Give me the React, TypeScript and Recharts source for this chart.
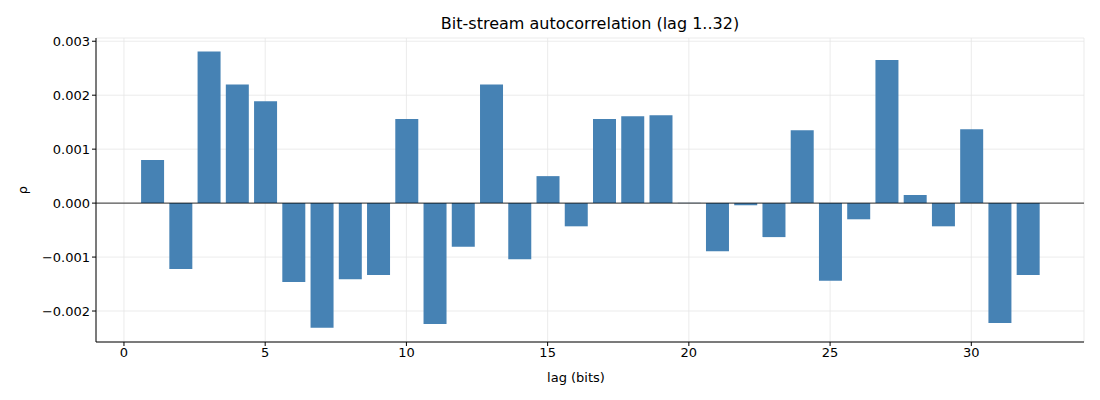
import React from 'react';
import { BarChart, Bar, XAxis, YAxis, CartesianGrid, ReferenceLine } from 'recharts';

const lags = [1,2,3,4,5,6,7,8,9,10,11,12,13,14,15,16,17,18,19,20,21,22,23,24,25,26,27,28,29,30,31,32];
const rho = [0.0008,-0.00122,0.00281,0.0022,0.00189,-0.00146,-0.00231,-0.00141,-0.00133,0.00156,-0.00224,-0.00081,0.0022,-0.00104,0.0005,-0.00043,0.00156,0.00161,0.00163,0.000005,-0.00089,-0.00004,-0.00063,0.00135,-0.00144,-0.0003,0.00265,0.00015,-0.00043,0.00137,-0.00222,-0.00133];
const xTicks = [0, 5, 10, 15, 20, 25, 30];
const yTicks = [-0.002, -0.001, 0, 0.001, 0.002, 0.003];

const data = lags.map((lag, i) => ({ lag, rho: rho[i] }));
const font = 'DejaVu Sans, sans-serif';

export default function App() {
  return (
    <div style={{ position: 'absolute', left: 0, top: 0, width: 1100, height: 400, background: '#fff', fontFamily: font }}>
      <BarChart width={1100} height={400} data={data} margin={{ top: 38, right: 16, bottom: 28, left: 36 }} barCategoryGap={0}>
        <text x={590} y={29} textAnchor="middle" fontSize={16} fill="#000" fontFamily={font}>Bit-stream autocorrelation (lag 1..32)</text>
        <text x={576} y={382} textAnchor="middle" fontSize={13} fill="#000" fontFamily={font}>lag (bits)</text>
        <text x={27} y={190} textAnchor="middle" fontSize={13} fill="#000" fontFamily={font} transform="rotate(-90 27 190)">ρ</text>
        <CartesianGrid stroke="#e6e6e6" strokeWidth={0.8} />
        <XAxis dataKey="lag" type="number" domain={[-0.99, 33.99]} ticks={xTicks} height={30} stroke="#000"
          tick={{ fill: '#000', fontSize: 13, fontFamily: font }} tickSize={4} allowDataOverflow />
        <YAxis type="number" domain={[-0.002574, 0.00306]} ticks={yTicks} width={60} stroke="#000"
          tickFormatter={(v: number) => v.toFixed(3).replace('-', '\u2212')}
          tick={{ fill: '#000', fontSize: 13, fontFamily: font }} tickSize={4} allowDataOverflow />
        <ReferenceLine y={0} stroke="#000" strokeWidth={0.8} />
        <Bar dataKey="rho" fill="#4682b4" barSize={23} isAnimationActive={false} />
      </BarChart>
    </div>
  );
}
